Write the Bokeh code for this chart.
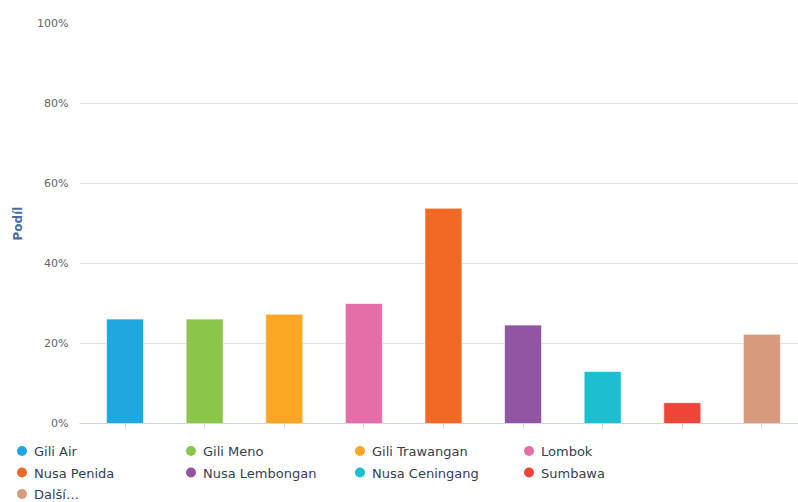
from bokeh.plotting import figure
from bokeh.models import Range1d, FixedTicker, PrintfTickFormatter, ColumnDataSource
from bokeh.layouts import column
from bokeh.embed import file_html
from bokeh.resources import INLINE
from bokeh.core.properties import value

categories = ["Gili Air", "Gili Meno", "Gili Trawangan", "Lombok", "Nusa Penida",
              "Nusa Lembongan", "Nusa Ceningang", "Sumbawa", "Další…"]
shares = [26.1, 26.1, 27.3, 30.0, 53.8, 24.6, 13.0, 5.2, 22.3]
colors = ["#1fa8e0", "#8bc64a", "#fba723", "#e56ea9", "#f26926",
          "#9155a3", "#1cbfcf", "#ef4538", "#d69a7c"]
y_ticks = [0, 20, 40, 60, 80, 100]
y_title = "Podíl"

FONT = "DejaVu Sans"
W = 798
H1 = 432
LEFT = 79

xs = list(range(len(categories)))
src = ColumnDataSource(dict(x=xs, top=shares, color=colors, name=categories))

p = figure(width=W, height=H1, output_backend="svg", toolbar_location=None,
           x_range=Range1d(-0.572, 8.46), y_range=Range1d(0, 100),
           min_border_left=LEFT, min_border_right=0, min_border_top=23, min_border_bottom=9)
p.frame_align = False
p.outline_line_color = None
p.background_fill_color = "white"
p.border_fill_color = "white"

p.vbar(x="x", top="top", width=0.465, bottom=0, fill_color="color",
       line_color="white", line_alpha=0.6, line_width=1, source=src)

# y axis
ya = p.yaxis[0]
ya.ticker = FixedTicker(ticks=y_ticks)
ya.formatter = PrintfTickFormatter(format="%d%%")
ya.axis_line_color = None
ya.major_tick_line_color = None
ya.major_tick_in = 0
ya.major_tick_out = 0
ya.minor_tick_line_color = None
ya.minor_tick_in = 0
ya.minor_tick_out = 0
ya.major_label_standoff = 11
ya.major_label_text_font = FONT
ya.major_label_text_font_size = "11px"
ya.major_label_text_color = "#666666"
ya.axis_label = y_title
ya.axis_label_text_font = FONT
ya.axis_label_text_font_size = "12px"
ya.axis_label_text_font_style = "bold"
ya.axis_label_text_color = "#4a6d9a"
ya.axis_label_standoff = 9

# x axis
xa = p.xaxis[0]
xa.ticker = FixedTicker(ticks=xs)
xa.axis_line_color = "#ccd6eb"
xa.major_tick_line_color = "#ccd6eb"
xa.major_tick_in = 0
xa.major_tick_out = 5
xa.minor_tick_line_color = None
xa.major_label_text_font_size = "1px"
xa.major_label_text_alpha = 0
xa.major_label_standoff = 0

p.xgrid.grid_line_color = None
p.ygrid.ticker = FixedTicker(ticks=y_ticks)
p.ygrid.grid_line_color = "#e0e0e0"
p.ygrid.grid_line_width = 1

# legend figure, frame spans the full page width; y in page pixels
H2 = 502 - H1
lg = figure(width=W, height=H2, output_backend="svg", toolbar_location=None,
            x_range=Range1d(0, W), y_range=Range1d(502, H1),
            min_border_left=0, min_border_right=0, min_border_top=0, min_border_bottom=0)
lg.frame_align = False
lg.axis.visible = False
lg.grid.visible = False
lg.outline_line_color = None
lg.background_fill_color = "white"
lg.border_fill_color = "white"

col_x = [21.5, 190.5, 359.5, 528.5]
row_y = [450.5, 472, 493.5]
lx = [col_x[i % 4] for i in range(len(categories))]
ly = [row_y[i // 4] for i in range(len(categories))]
lsrc = ColumnDataSource(dict(x=lx, y=ly, tx=[v + 12 for v in lx], ty=[v + 0.5 for v in ly],
                             color=colors, name=categories))
lg.scatter(x="x", y="y", size=10, marker="circle", fill_color="color", line_color=None, source=lsrc)
lg.text(x="tx", y="ty", text="name", text_font=value(FONT), text_font_size="13px",
        text_color="#35404e", text_baseline="middle", text_align="left", source=lsrc)

layout = column(p, lg, spacing=0)
open("out.html", "w").write(file_html(layout, INLINE))
